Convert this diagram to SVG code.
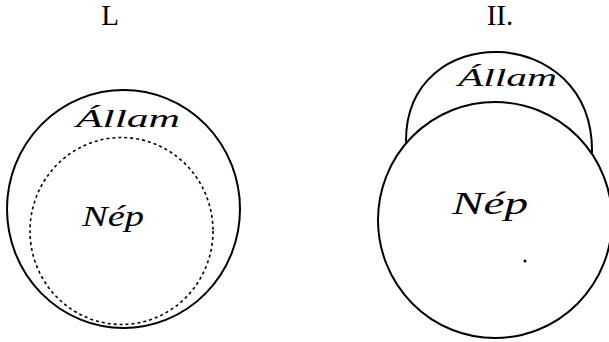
<svg xmlns="http://www.w3.org/2000/svg" width="609" height="342" viewBox="0 0 609 342">
<style>
.lbl{font-family:"Liberation Serif","Times New Roman",serif;font-size:29px;fill:#000;text-anchor:middle}
.hand{font-family:"Liberation Serif",serif;font-style:italic;fill:#000}
.line{fill:none;stroke:#000;stroke-width:2}
.dash{fill:none;stroke:#000;stroke-width:1.6;stroke-dasharray:3 3}
</style>
<rect width="609" height="342" fill="#fff"/>
<g id="label-I"><text class="lbl" x="110" y="25">L</text></g>
<g id="label-II"><text class="lbl" x="500" y="25">II.</text></g>
<g id="diagram-I">
  <ellipse class="line" cx="123.5" cy="209" rx="116.5" ry="119"/>
  <ellipse class="dash" cx="121.5" cy="231" rx="91.5" ry="93.5"/>
  <text class="hand" x="76" y="127" font-size="26" textLength="104" lengthAdjust="spacingAndGlyphs">Állam</text>
  <text class="hand" x="82" y="226" font-size="30" textLength="62" lengthAdjust="spacingAndGlyphs">Nép</text>
</g>
<g id="diagram-II">
  <path class="line" d="M406,143 C404,18 594,22 592,153"/>
  <ellipse class="line" cx="495" cy="220" rx="117" ry="118"/>
  <text class="hand" x="458" y="86" font-size="26" textLength="99" lengthAdjust="spacingAndGlyphs">Állam</text>
  <text class="hand" x="452" y="214" font-size="32" textLength="76" lengthAdjust="spacingAndGlyphs">Nép</text>
  <circle cx="525" cy="261" r="1.5" fill="#000"/>
</g>
</svg>
